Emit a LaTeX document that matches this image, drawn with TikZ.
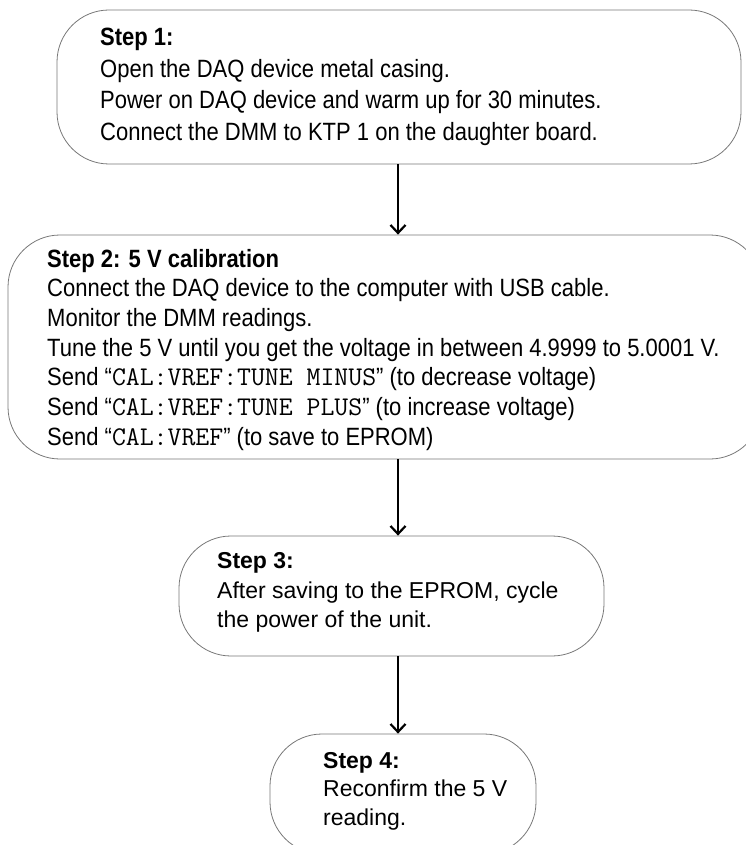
\documentclass[tikz,border=0pt]{standalone}
\usepackage{fontspec}
\setmainfont{Liberation Sans}
\newfontfamily\condfont{Liberation Sans}[FakeStretch=0.88]
\usetikzlibrary{arrows.meta}
\definecolor{boxgray}{RGB}{120,120,120}
\tikzset{
  flowbox/.style={draw=boxgray, line width=0.8pt, rounded corners=52pt, inner sep=0pt},
  lineA/.style={anchor=base west, inner sep=0pt, font=\condfont\fontsize{25}{25}\selectfont},
  lineB/.style={anchor=base west, inner sep=0pt, font=\fontsize{23}{23}\selectfont},
  arr/.style={line width=2.4pt, -{Straight Barb[length=8pt,width=15pt,line width=2.2pt]}}
}
\newcommand{\code}[1]{{\ttfamily\fontsize{27}{27}\selectfont #1}}
\begin{document}
\begin{tikzpicture}[x=1pt,y=-1pt]
\useasboundingbox (0,0) rectangle (746,845);
\clip (0,0) rectangle (746,845);
% boxes
\node[flowbox, minimum width=684pt, minimum height=154pt] (s1) at (399,87) {};
\node[flowbox, minimum width=754pt, minimum height=224pt] (s2) at (385,347) {};
\node[flowbox, minimum width=425pt, minimum height=120pt] (s3) at (391.5,596) {};
\node[flowbox, minimum width=266pt, minimum height=120pt] (s4) at (403,794) {};
% step 1 text
\node[lineA] (t1a) at (100,46) {\bfseries Step 1:};
\node[lineA] (t1b) at (100,77.5) {Open the DAQ device metal casing.};
\node[lineA] (t1c) at (100,109) {Power on DAQ device and warm up for 30 minutes.};
\node[lineA] (t1d) at (100,140.5) {Connect the DMM to KTP 1 on the daughter board.};
% step 2 text
\node[lineA] (t2a) at (47,267) {\bfseries Step 2: 5 V calibration};
\node[lineA] (t2b) at (47,296.7) {Connect the DAQ device to the computer with USB cable.};
\node[lineA] (t2c) at (47,326.4) {Monitor the DMM readings.};
\node[lineA] (t2d) at (47,356.1) {Tune the 5 V until you get the voltage in between 4.9999 to 5.0001 V.};
\node[lineA] (t2e) at (47,385.8) {Send “\code{CAL:VREF:TUNE MINUS}” (to decrease voltage)};
\node[lineA] (t2f) at (47,415.5) {Send “\code{CAL:VREF:TUNE PLUS}” (to increase voltage)};
\node[lineA] (t2g) at (47,445.2) {Send “\code{CAL:VREF}” (to save to EPROM)};
% step 3 text
\node[lineB] (t3a) at (217,568) {\bfseries Step 3:};
\node[lineB] (t3b) at (217,598) {After saving to the EPROM, cycle};
\node[lineB] (t3c) at (217,627) {the power of the unit.};
% step 4 text
\node[lineB] (t4a) at (323,768) {\bfseries Step 4:};
\node[lineB] (t4b) at (323,796) {Reconfirm the 5 V};
\node[lineB] (t4c) at (323,825) {reading.};
% arrows
\coordinate (ax) at (398,0);
\draw[arr] (s1.south -| ax) -- (s2.north -| ax);
\draw[arr] (s2.south -| ax) -- (s3.north -| ax);
\draw[arr] (s3.south -| ax) -- (s4.north -| ax);
\end{tikzpicture}
\end{document}
